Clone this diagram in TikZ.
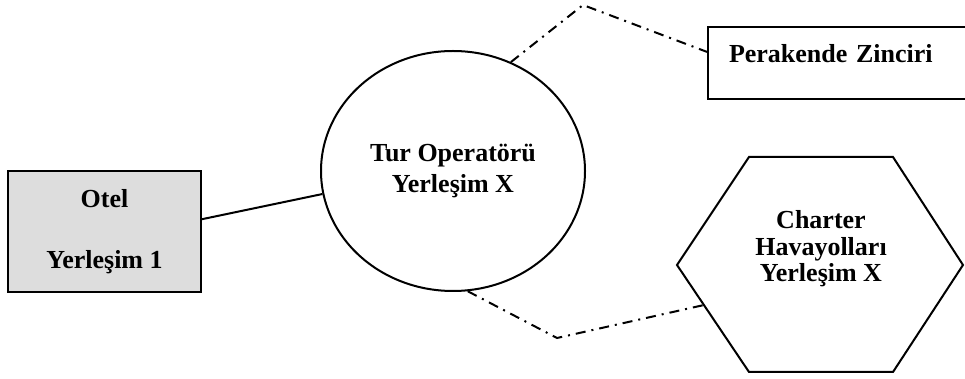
\documentclass[tikz,border=0pt]{standalone}
\usepackage{fontspec}
\setmainfont{Liberation Serif}
\usepackage{tikz}
\usetikzlibrary{shapes.geometric,calc}

\definecolor{otelgri}{RGB}{221,221,221}

\tikzset{
	yazi/.style={font=\fontsize{13}{15.5}\selectfont\bfseries, align=center},
	kutu/.style={draw, line width=1pt, rectangle, yazi},
	baglanti/.style={line width=1pt},
	kesik/.style={line width=1pt, dash pattern=on 5pt off 3pt on 1pt off 3pt}
}

\begin{document}
\begin{tikzpicture}[x=0.5pt, y=-0.5pt]
	
	\useasboundingbox (0,0) rectangle (965,379);
	\clip (0,0) rectangle (965,379);
	
	\node[kutu, fill=otelgri, minimum width=96.5pt, minimum height=60.5pt] (otel) at (104.5,231.5) {Otel\\[15pt]Yerleşim 1};
	
	\node[draw, line width=1pt, ellipse, inner sep=0pt, minimum width=132pt, minimum height=120pt, yazi] (tur) at (453,171) {Tur Operatörü\\Yerleşim X};
	
	\node[kutu, anchor=west, minimum height=36pt, text width=118pt, align=left, inner xsep=10.5pt, text height=9pt, text depth=9pt] (perakende) at (707,63) {Perakende Zinciri};
	
	\coordinate (hsol) at (677,265);
	\coordinate (hustsol) at (749,157);
	\coordinate (hustsag) at (893,157);
	\coordinate (hsag) at (963,265);
	\coordinate (haltsag) at (893,372);
	\coordinate (haltsol) at (749,372);
	\draw[line width=1pt, line join=miter] (hsol) -- (hustsol) -- (hustsag) -- (hsag) -- (haltsag) -- (haltsol) -- cycle;
	\node[yazi, font=\fontsize{13}{13.25}\selectfont\bfseries] (charter) at (821,249) {Charter\\Havayolları\\Yerleşim X};
	
	\coordinate (ust) at (583,5);
	\coordinate (alt) at (557,338);
	\coordinate (hkenar) at ($(hsol)!0.374!(haltsol)$);
	
	\draw[baglanti] ($(otel.north east)!0.4!(otel.south east)$) -- (tur.190);
	\draw[kesik] (tur.62) -- (ust) -- ($(perakende.north west)!0.35!(perakende.south west)$);
	\draw[kesik] (tur.-83) -- (alt) -- (hkenar);
	
\end{tikzpicture}
\end{document}
